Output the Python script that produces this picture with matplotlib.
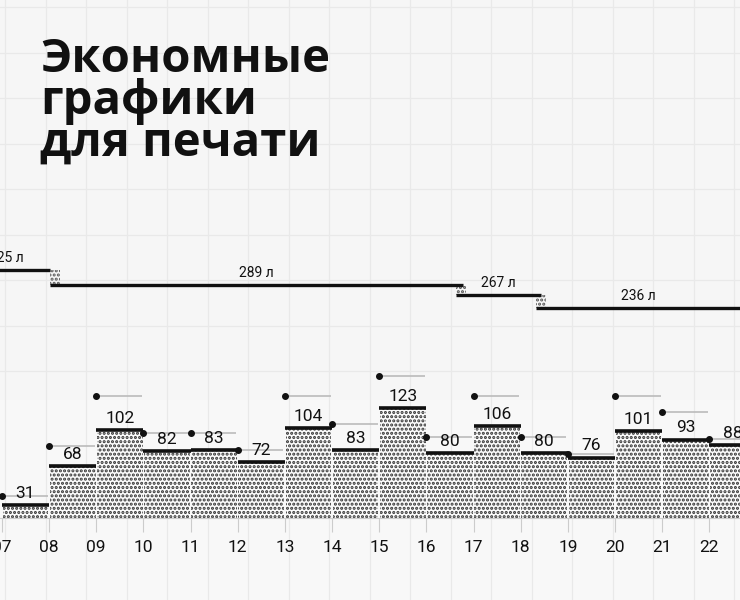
import matplotlib
matplotlib.use("Agg")
import matplotlib.pyplot as plt
import numpy as np

plt.rcParams['font.family'] = ['Roboto', 'DejaVu Sans']
plt.rcParams['hatch.linewidth'] = 1.5

months = ["07","08","09","10","11","12","13","14","15","16","17","18","19","20","21","22"]
values = [31, 68, 102, 82, 83, 72, 104, 83, 123, 80, 106, 80, 76, 101, 93, 88]
previous = [40, 87, 134, 99, 99, 83, 134, 108, 153, 95, 134, 95, 79, 134, 119, 94]

seg_labels = ["325 л", "289 л", "267 л", "236 л"]
seg_values = [325, 289, 267, 236]
seg_start = [-3.0, 1.03, 9.63, 11.33]
seg_end = [1.03, 9.78, 11.43, 15.8]

BG = '#f6f6f6'
fig = plt.figure(figsize=(7.4, 6.0), dpi=100, facecolor=BG)

bg = fig.add_axes([0, 0, 1, 1], zorder=0)
bg.set_xlim(0, 740); bg.set_ylim(600, 0)
bg.set_facecolor(BG)
for xx in np.arange(5, 740, 40.5):
    bg.axvline(xx, color='#e9e9e9', lw=0.9)
for yy in np.arange(7, 400, 45.5):
    bg.axhline(yy, color='#e9e9e9', lw=0.9)
bg.axhspan(400, 600, color='#f8f8f8', lw=0)
bg.axis('off')

fig.text(40/740, 1-36/600, "Экономные\nграфики\nдля печати", fontsize=34,
         fontweight='bold', family=['Open Sans', 'DejaVu Sans'], va='top', ha='left',
         linespacing=0.86, color='#111111')

xl = (-0.04, 15.65)
ax = fig.add_axes([0, 1-518/600, 1, 200/600], zorder=2)
ax.patch.set_alpha(0)
ax.set_xlim(*xl)
ax.set_ylim(19, 19 + 200/1.06)
x = np.arange(len(values))
ax.bar(x + 0.5, np.array(values) - 19, bottom=19, width=0.97, color='#fbfbfb',
       hatch='....', edgecolor='#333333', lw=0)
for i, v in enumerate(values):
    ax.hlines(v, i, i + 1, color='#111111', lw=2.6)
    ax.text(i + 0.5, v + 4, str(v), ha='center', va='bottom', fontsize=12.5, color='#111111')
    p = previous[i]
    ax.hlines(p, i, i + 0.97, color='#bbbbbb', lw=1.2, zorder=1)
    ax.plot(i, p, 'o', color='#111111', ms=4, zorder=3)
for s in ['left', 'right', 'top']:
    ax.spines[s].set_visible(False)
ax.spines['bottom'].set_color('#cccccc')
ax.set_yticks([])
ax.set_xticks(x)
ax.set_xticklabels(months, fontsize=12.5, color='#111111')
ax.tick_params(axis='x', length=10, color='#cccccc', pad=6)

ax2 = fig.add_axes([0, 1-340/600, 1, 100/600], zorder=2)
ax2.patch.set_alpha(0)
ax2.set_xlim(*xl)
ax2.set_ylim(325 - 70/0.427, 325 + 30/0.427)
for i in range(len(seg_values)):
    v = seg_values[i]
    ax2.hlines(v, seg_start[i], seg_end[i], color='#111111', lw=2.4)
    mid = (max(seg_start[i], -0.04) + min(seg_end[i], 15.65)) / 2
    if i == 0:
        mid = 0.1
    ax2.text(mid, v + 12, seg_labels[i], ha='center', va='bottom', fontsize=10, color='#111111')
    if i > 0:
        ax2.bar(seg_start[i] + 0.1, seg_values[i-1] - v, bottom=v, width=0.2,
                color='none', hatch='....', edgecolor='#555555', lw=0)
ax2.axis('off')

fig.savefig('out.png', dpi=100, facecolor=BG)
